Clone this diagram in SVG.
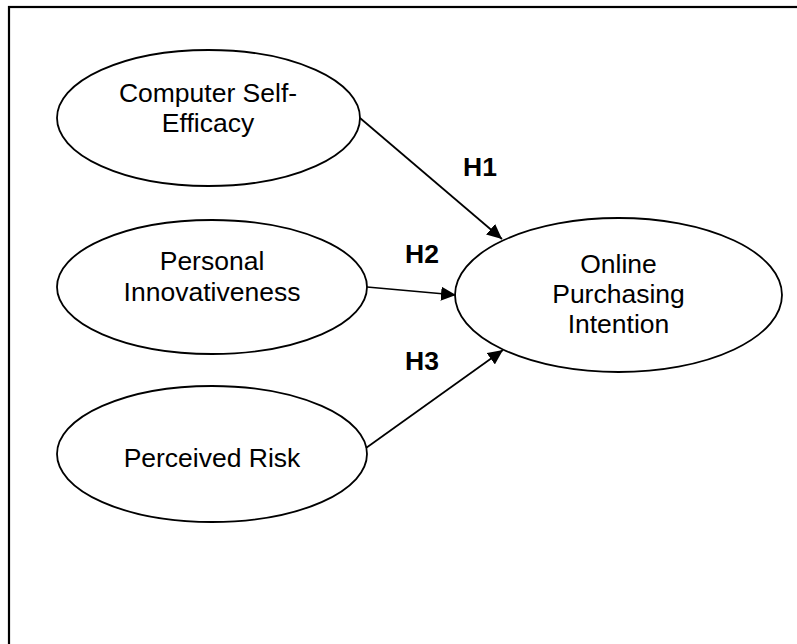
<svg xmlns="http://www.w3.org/2000/svg" width="797" height="644" viewBox="0 0 797 644">
<style>
.node{fill:#fff;stroke:#000;stroke-width:1.8}
.lbl{font-family:"Liberation Sans",Arial,sans-serif;font-size:26.5px;text-anchor:middle;fill:#000}
.h{font-family:"Liberation Sans",Arial,sans-serif;font-size:26.5px;font-weight:bold;fill:#000}
.edge{stroke:#000;stroke-width:1.7;fill:none;marker-end:url(#arr)}
</style>
<defs>
<marker id="arr" viewBox="0 0 15 14" refX="15" refY="7" markerUnits="userSpaceOnUse" markerWidth="15" markerHeight="14" orient="auto">
<path d="M0,0 L15,7 L0,14 z" fill="#000"/>
</marker>
</defs>
<rect x="0" y="0" width="797" height="644" fill="#fff"/>
<rect x="9" y="7" width="800" height="650" fill="none" stroke="#000" stroke-width="2.2"/>
<g id="cse">
<ellipse class="node" cx="208.5" cy="118" rx="151.5" ry="68"/>
<text class="lbl" x="208" y="102">Computer Self-</text>
<text class="lbl" x="208" y="132">Efficacy</text>
</g>
<g id="pi">
<ellipse class="node" cx="212" cy="287" rx="155" ry="67"/>
<text class="lbl" x="212" y="270">Personal</text>
<text class="lbl" x="212" y="301">Innovativeness</text>
</g>
<g id="pr">
<ellipse class="node" cx="212" cy="454" rx="155" ry="68"/>
<text class="lbl" x="212" y="467">Perceived Risk</text>
</g>
<g id="opi">
<ellipse class="node" cx="618.5" cy="295" rx="163.5" ry="77"/>
<text class="lbl" x="618.5" y="273">Online</text>
<text class="lbl" x="618.5" y="303">Purchasing</text>
<text class="lbl" x="618.5" y="333">Intention</text>
</g>
<g id="connectors">
<line class="edge" x1="360" y1="118" x2="502" y2="239"/>
<line class="edge" x1="367" y1="287" x2="456" y2="295"/>
<line class="edge" x1="366" y1="448" x2="503" y2="350"/>
<text class="h" x="463" y="176">H1</text>
<text class="h" x="405" y="263">H2</text>
<text class="h" x="405" y="370">H3</text>
</g>
</svg>
